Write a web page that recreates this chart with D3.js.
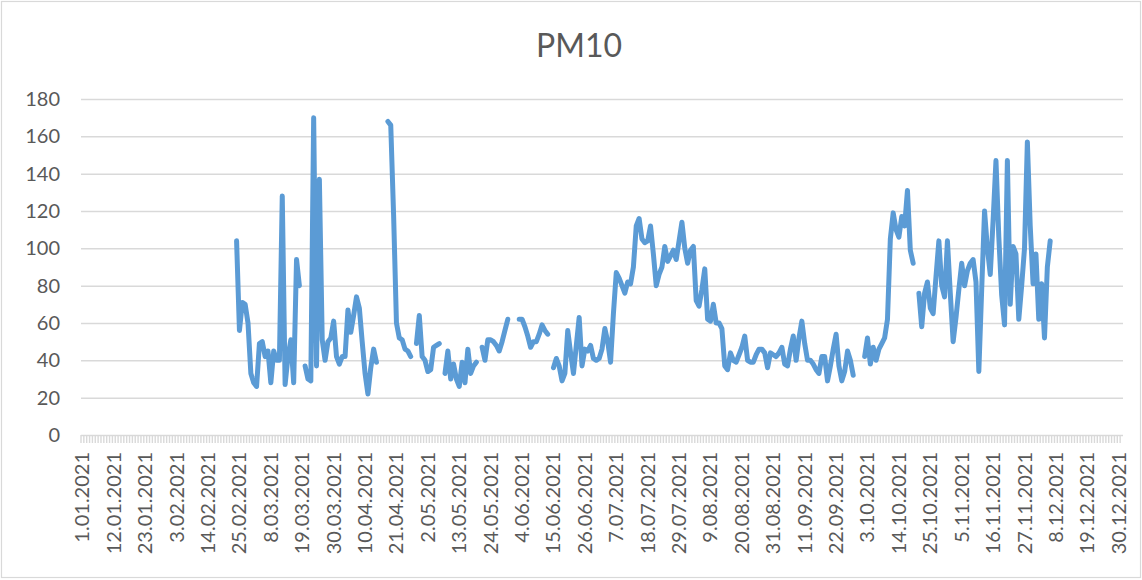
<!DOCTYPE html>
<html><head><meta charset="utf-8">
<script src="https://cdn.jsdelivr.net/npm/d3@7"></script>
<style>body{margin:0;background:#fff}svg{display:block}</style>
</head><body>
<svg id="chart" width="1142" height="580"></svg>
<script>
// ---------- data ----------
const chartTitle = "PM10";
const yTickValues = [0, 20, 40, 60, 80, 100, 120, 140, 160, 180];
const xTickLabels = ["1.01.2021","12.01.2021","23.01.2021","3.02.2021","14.02.2021","25.02.2021","8.03.2021","19.03.2021","30.03.2021","10.04.2021","21.04.2021","2.05.2021","13.05.2021","24.05.2021","4.06.2021","15.06.2021","26.06.2021","7.07.2021","18.07.2021","29.07.2021","9.08.2021","20.08.2021","31.08.2021","11.09.2021","22.09.2021","3.10.2021","14.10.2021","25.10.2021","5.11.2021","16.11.2021","27.11.2021","8.12.2021","19.12.2021","30.12.2021"];

// measured runs of consecutive daily values (gaps = missing days)
const segmentStarts = ["24.02.2021","20.03.2021","18.04.2021","28.04.2021","8.05.2021","21.05.2021","3.06.2021","15.06.2021","2.10.2021","21.10.2021"];
const segFeb = [104,56,71,70,60,33,28,26,49,50,42,45,28,45,40,40,128,27,42,51,28,94,80];
const segMar = [37,30,29,170,37,137,51,40,50,52,61,42,38,42,42,67,55,64,74,68,50,33,22,36,46,39];
const segApr1 = [168,166,118,60,52,51,46,45,42];
const segApr2 = [49,64,42,40,34,35,47,48,49];
const segMay1 = [33,45,30,38,30,26,39,28,46,33,37,39];
const segMay2 = [47,40,51,51,50,48,45,50,56,62];
const segJun1 = [62,62,58,53,47,50,50,54,59,56,54];
const segSummer = [36,41,37,29,33,56,44,33,48,63,37,46,45,48,41,40,41,46,57,50,39,65,87,84,80,76,82,81,90,112,116,105,103,104,112,97,80,86,90,101,93,96,99,94,104,114,100,92,99,101,72,69,78,89,62,61,70,60,60,57,37,35,44,40,39,43,47,53,40,39,39,43,46,46,44,36,44,43,42,44,47,38,37,46,53,40,52,61,49,40,40,38,35,33,42,42,29,37,46,54,37,29,34,45,40,32];
const segOct1 = [42,52,38,47,40,46,49,52,62,105,119,110,106,117,112,131,99,92];
const segAutumn = [76,58,76,82,68,65,85,104,80,74,104,76,50,63,78,92,80,88,92,94,82,34,78,120,100,86,115,147,106,75,59,147,70,101,97,62,80,100,157,112,81,97,62,81,52,90,104];
const segmentValues = [segFeb, segMar, segApr1, segApr2, segMay1, segMay2, segJun1, segSummer, segOct1, segAutumn];

// ---------- build ----------
const fmt = d3.timeFormat("%-d.%m.%Y");
const parse = d3.timeParse("%d.%m.%Y");
const days = d3.timeDay.range(new Date(2021,0,1), new Date(2022,0,1));
const cats = days.map(fmt);
const valueByCat = new Map();
segmentStarts.forEach((s, k) => {
  const start = parse(s);
  segmentValues[k].forEach((v, j) => valueByCat.set(fmt(d3.timeDay.offset(start, j)), v));
});
const series = cats.map(c => ({cat: c, v: valueByCat.has(c) ? valueByCat.get(c) : null}));

const svg = d3.select("#chart");
const W = 1142, H = 580;
const plot = {left: 81, right: 1123, top: 99, bottom: 435};
const font = "Lato, 'Open Sans', sans-serif";
const textColor = "#595959";
const gridColor = "#d9d9d9";

svg.append("rect").attr("x",1.5).attr("y",1.5).attr("width",W-3).attr("height",H-4)
  .attr("fill","#fff").attr("stroke",gridColor).attr("stroke-width",1.2);

const x = d3.scaleBand().domain(cats).range([plot.left, plot.right]).paddingInner(0).paddingOuter(0);
const y = d3.scaleLinear().domain([0,180]).range([plot.bottom, plot.top]);
const cx = c => x(c) + x.bandwidth()/2;

// title
svg.append("text").attr("x", 579).attr("y", 57).attr("text-anchor","middle")
  .attr("font-family", font).attr("font-size", 32).attr("fill", textColor).text(chartTitle);

// gridlines + y axis
const yAxis = d3.axisLeft(y).tickValues(yTickValues).tickSize(-(plot.right-plot.left)).tickPadding(20);
const gy = svg.append("g").attr("transform", `translate(${plot.left},0)`).call(yAxis);
gy.select(".domain").remove();
gy.selectAll(".tick line").attr("stroke", gridColor).attr("stroke-width", 1.5)
  .attr("display", d => d === 0 ? "none" : null);
gy.selectAll(".tick text").attr("font-family", font).attr("font-size", 20).attr("fill", textColor)
  .attr("x", -21);

// x axis (category axis, a tick for every day, between categories)
const xAxis = d3.axisBottom(x).tickSize(8).tickFormat("");
const gx = svg.append("g").attr("transform", `translate(0,${plot.bottom})`).call(xAxis);
gx.select(".domain").attr("stroke", gridColor).attr("stroke-width", 1.5)
  .attr("d", `M${plot.left},0.5H${plot.right}`);
gx.selectAll(".tick line").attr("stroke", gridColor).attr("stroke-width", 1.4);
gx.selectAll(".tick text").remove();
gx.selectAll(".tick").attr("transform", d => `translate(${x(d)},0)`);

const labelSet = new Set(xTickLabels);
svg.append("g").selectAll("text").data(cats.filter(c => labelSet.has(c))).join("text")
  .attr("transform", c => `translate(${cx(c)},${plot.bottom + 17}) rotate(-90)`)
  .attr("text-anchor","end").attr("dy","0.35em")
  .attr("font-family", font).attr("font-size", 20).attr("fill", textColor)
  .text(c => c);

// line
const line = d3.line().defined(d => d.v != null).x(d => cx(d.cat)).y(d => y(d.v));
svg.append("path").datum(series).attr("d", line)
  .attr("fill","none").attr("stroke","#5b9bd5").attr("stroke-width",5)
  .attr("stroke-linejoin","round").attr("stroke-linecap","round");
</script>
</body></html>
